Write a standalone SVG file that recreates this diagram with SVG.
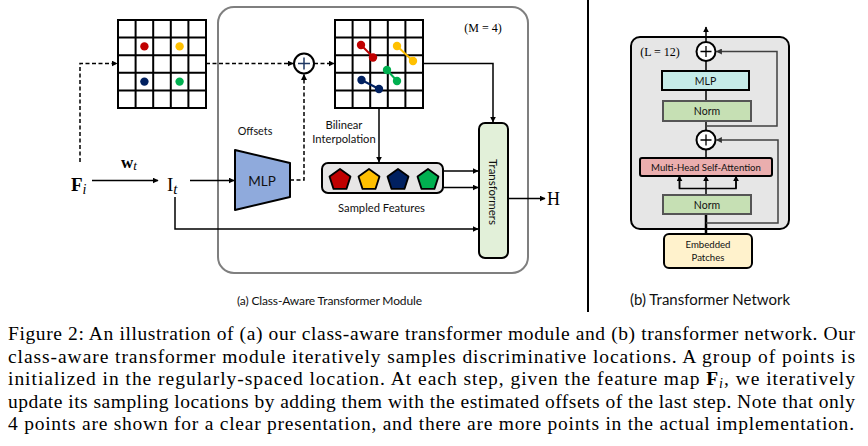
<svg xmlns="http://www.w3.org/2000/svg" width="868" height="446" viewBox="0 0 868 446">
<defs>
<marker id="ah" viewBox="0 0 10 10" refX="9" refY="5" markerWidth="6" markerHeight="6" markerUnits="userSpaceOnUse" orient="auto"><path d="M0,0 L10,5 L0,10 z" fill="#000"/></marker>
<marker id="ahg" viewBox="0 0 10 10" refX="9" refY="5" markerWidth="6" markerHeight="6" markerUnits="userSpaceOnUse" orient="auto"><path d="M0,0 L10,5 L0,10 z" fill="#333"/></marker>
<polygon id="pent" points="0,-11 10.46,-3.4 6.47,8.9 -6.47,8.9 -10.46,-3.4" stroke="#000" stroke-width="1.8" stroke-linejoin="round"/>
</defs>
<style>
.sans{font-family:Lato,"Open Sans","Liberation Sans",sans-serif;fill:#111}
.serif{font-family:"Liberation Serif","DejaVu Serif",serif;fill:#000}
.ln{fill:none;stroke:#000;stroke-width:1.5}
.dash{fill:none;stroke:#000;stroke-width:1.5;stroke-dasharray:4 2.5}
.gridl{stroke:#000;stroke-width:2;fill:none}
.box{stroke:#000;stroke-width:2}
.res{fill:none;stroke:#404040;stroke-width:1.5}
.cap{font-family:"Liberation Serif","DejaVu Serif",serif;font-size:19.5px;fill:#000}
</style>
<rect width="868" height="446" fill="#fff"/>

<!-- module container -->
<g id="module">
<rect x="218" y="7" width="310" height="266" rx="16" fill="none" stroke="#7f7f7f" stroke-width="2"/>
<text class="serif" x="483" y="32" font-size="12" text-anchor="middle" fill="#1f2a5a">(M = 4)</text>
</g>

<!-- grid 1 -->
<g id="grid1">
<rect x="118" y="20" width="88" height="88" fill="#fff" class="gridl"/>
<path class="gridl" d="M135.6,20V108M153.2,20V108M170.8,20V108M188.4,20V108M118,37.6H206M118,55.2H206M118,72.8H206M118,90.4H206"/>
<circle cx="144.4" cy="46.4" r="4.2" fill="#c00000"/>
<circle cx="179.6" cy="46.4" r="4.2" fill="#ffc000"/>
<circle cx="144.4" cy="81.6" r="4.2" fill="#002060"/>
<circle cx="179.6" cy="81.6" r="4.2" fill="#00b050"/>
</g>

<!-- grid 2 -->
<g id="grid2">
<rect x="335" y="20" width="88" height="88" fill="#fff" class="gridl"/>
<path class="gridl" d="M352.6,20V108M370.2,20V108M387.8,20V108M405.4,20V108M335,37.6H423M335,55.2H423M335,72.8H423M335,90.4H423"/>
<line x1="361" y1="45" x2="373" y2="57" stroke="#c00000" stroke-width="2"/>
<circle cx="361" cy="45" r="4.2" fill="#c00000"/><circle cx="373" cy="57.5" r="4.2" fill="#c00000"/>
<line x1="397" y1="46" x2="413" y2="61" stroke="#ffc000" stroke-width="2"/>
<circle cx="397" cy="46" r="4.2" fill="#ffc000"/><circle cx="413" cy="61" r="4.2" fill="#ffc000"/>
<line x1="387" y1="70" x2="397" y2="81" stroke="#00b050" stroke-width="2"/>
<circle cx="387" cy="70" r="4.2" fill="#00b050"/><circle cx="397" cy="81" r="4.2" fill="#00b050"/>
<line x1="361.5" y1="80" x2="379" y2="89" stroke="#002060" stroke-width="2"/>
<circle cx="361.5" cy="80" r="4.2" fill="#002060"/><circle cx="379" cy="89" r="4.2" fill="#002060"/>
</g>

<!-- plus -->
<g id="plus-a">
<circle cx="304" cy="63.5" r="10" fill="#fff" stroke="#000" stroke-width="2"/>
<path d="M298,63.5H310M304,57.5V69.5" stroke="#1f3864" stroke-width="1.5"/>
</g>

<!-- MLP -->
<g id="mlp">
<polygon points="235,150 290,163 290,197 235,210" fill="#8faadc" stroke="#000" stroke-width="2" stroke-linejoin="round"/>
<text class="sans" x="262" y="186" font-size="13.5" text-anchor="middle">MLP</text>
</g>
<text class="sans" x="255" y="135" font-size="10.8" text-anchor="middle">Offsets</text>
<text class="sans" x="344" y="129" font-size="11.2" text-anchor="middle">Bilinear</text>
<text class="sans" x="344" y="143" font-size="11.2" text-anchor="middle">Interpolation</text>

<!-- sampled features -->
<g id="features">
<rect x="322" y="163" width="121" height="30" rx="6" fill="#e7e6e6" class="box"/>
<use href="#pent" x="340" y="180" fill="#c00000"/>
<use href="#pent" x="369" y="180" fill="#ffc000"/>
<use href="#pent" x="398" y="180" fill="#002060"/>
<use href="#pent" x="428" y="180" fill="#00b050"/>
<text class="sans" x="381.5" y="212" font-size="11.2" text-anchor="middle">Sampled Features</text>
</g>

<!-- transformers -->
<g id="transformers">
<rect x="479" y="123" width="29" height="135" rx="6" fill="#e2f0d9" class="box"/>
<text class="sans" transform="translate(493.5,192) rotate(90)" font-size="11.5" text-anchor="middle" dominant-baseline="central">Transformers</text>
</g>

<!-- symbols -->
<g id="symbols">
<text class="serif" x="71" y="191" font-size="19" font-weight="bold">F<tspan font-weight="normal" font-style="italic" font-size="14" dy="3">i</tspan></text>
<text class="serif" x="121" y="168" font-size="17" font-weight="bold">w<tspan font-weight="normal" font-style="italic" font-size="13" dy="2">t</tspan></text>
<text class="serif" x="167" y="191" font-size="19">I<tspan font-style="italic" font-size="15" dy="3">t</tspan></text>
<text class="serif" x="547" y="205" font-size="18">H</text>
</g>

<!-- connectors -->
<g id="connectors">
<path class="dash" d="M80,162V63.5H117" marker-end="url(#ah)"/>
<path class="dash" d="M206,63.5H293" marker-end="url(#ah)"/>
<path class="dash" d="M314,63.5H334" marker-end="url(#ah)"/>
<path class="dash" d="M290,180H304V74.5" marker-end="url(#ah)" stroke="#333"/>
<path class="ln" d="M92,180.5H158" marker-end="url(#ah)"/>
<path class="ln" d="M190,180.5H234" marker-end="url(#ah)"/>
<path class="ln" d="M423,63.5H493V122" marker-end="url(#ah)"/>
<path class="ln" d="M379,108V162" marker-end="url(#ah)"/>
<path class="ln" d="M443,171H478" marker-end="url(#ah)"/>
<path class="ln" d="M443,187.5H478" marker-end="url(#ah)"/>
<path class="ln" d="M175,197V229H478" marker-end="url(#ah)"/>
<path class="ln" d="M508,198.5H545" marker-end="url(#ah)"/>
</g>

<!-- separator -->
<line x1="588" y1="0" x2="588" y2="312" stroke="#000" stroke-width="2"/>

<!-- right panel -->
<g id="tn-container">
<rect x="631" y="37" width="158" height="192" rx="9" fill="#e6e6e6" class="box"/>
<text class="serif" x="660" y="56" font-size="12" text-anchor="middle" fill="#1f2a5a">(L = 12)</text>
</g>
<g id="tn-connectors">
<path class="ln" d="M706,42V27" marker-end="url(#ah)"/>
<path class="ln" d="M706,61V71M706,90V101M706,121V130.5M706,149.5V158M706,195V188.5" />
<path class="ln" d="M679.5,176.5V188.5H736V176.5"/>
<path class="ln" d="M679.5,188.5V176" marker-end="url(#ah)"/>
<path class="ln" d="M706,188.5V176" marker-end="url(#ah)"/>
<path class="ln" d="M736,188.5V176" marker-end="url(#ah)"/>
<path d="M706,234V214" stroke="#000" stroke-width="2.5"/>
<path class="res" d="M706,126H777V51.5H716.5" marker-end="url(#ahg)"/>
<path class="res" d="M706,223H778V140H716.5" marker-end="url(#ahg)"/>
</g>
<g id="tn-plus1">
<circle cx="706" cy="51.5" r="9.5" fill="#fff" stroke="#000" stroke-width="2"/>
<path d="M700.5,51.5H711.5M706,46V57" stroke="#000" stroke-width="1.3"/>
</g>
<g id="tn-mlp">
<rect x="662" y="71" width="87" height="19" fill="#c5ebe8" class="box"/>
<text class="sans" x="705.5" y="84.5" font-size="10.5" text-anchor="middle">MLP</text>
</g>
<g id="tn-norm1">
<rect x="663" y="101" width="88" height="20" fill="#c6e0b4" stroke="#555" stroke-width="2"/>
<text class="sans" x="707" y="115" font-size="10.5" text-anchor="middle">Norm</text>
</g>
<g id="tn-plus2">
<circle cx="706" cy="140" r="9.5" fill="#fff" stroke="#000" stroke-width="2"/>
<path d="M700.5,140H711.5M706,134.5V145.5" stroke="#000" stroke-width="1.3"/>
</g>
<g id="tn-mhsa">
<rect x="640" y="158" width="132" height="18" rx="2" fill="#eaaeae" class="box"/>
<text class="sans" x="706" y="171" font-size="9.6" text-anchor="middle">Multi-Head Self-Attention</text>
</g>
<g id="tn-norm2">
<rect x="663" y="195" width="88" height="19" fill="#c6e0b4" stroke="#555" stroke-width="2"/>
<text class="sans" x="707" y="208.5" font-size="10.5" text-anchor="middle">Norm</text>
</g>
<g id="tn-embed">
<rect x="664" y="234" width="88" height="34" rx="5" fill="#fff2cc" class="box"/>
<text class="sans" x="708" y="248" font-size="9.6" text-anchor="middle">Embedded</text>
<text class="sans" x="708" y="261" font-size="9.6" text-anchor="middle">Patches</text>
</g>

<!-- sub captions -->
<text class="sans" x="237" y="305" font-size="12" textLength="185" lengthAdjust="spacing">(a) Class-Aware Transformer Module</text>
<text class="sans" x="630" y="305" font-size="14.5" textLength="160" lengthAdjust="spacingAndGlyphs">(b) Transformer Network</text>

<!-- figure caption -->
<g id="caption">
<text class="cap" x="8" y="340" textLength="847" lengthAdjust="spacing">Figure 2: An illustration of (a) our class-aware transformer module and (b) transformer network. Our</text>
<text class="cap" x="8" y="362.5" textLength="847" lengthAdjust="spacing">class-aware transformer module iteratively samples discriminative locations. A group of points is</text>
<text class="cap" x="8" y="385" textLength="847" lengthAdjust="spacing">initialized in the regularly-spaced location. At each step, given the feature map <tspan font-weight="bold">F</tspan><tspan font-style="italic" font-size="14" dy="3">i</tspan><tspan dy="-3">, we iteratively</tspan></text>
<text class="cap" x="8" y="407.5" textLength="847" lengthAdjust="spacing">update its sampling locations by adding them with the estimated offsets of the last step. Note that only</text>
<text class="cap" x="8" y="430" textLength="846" lengthAdjust="spacing">4 points are shown for a clear presentation, and there are more points in the actual implementation.</text>
</g>
</svg>
